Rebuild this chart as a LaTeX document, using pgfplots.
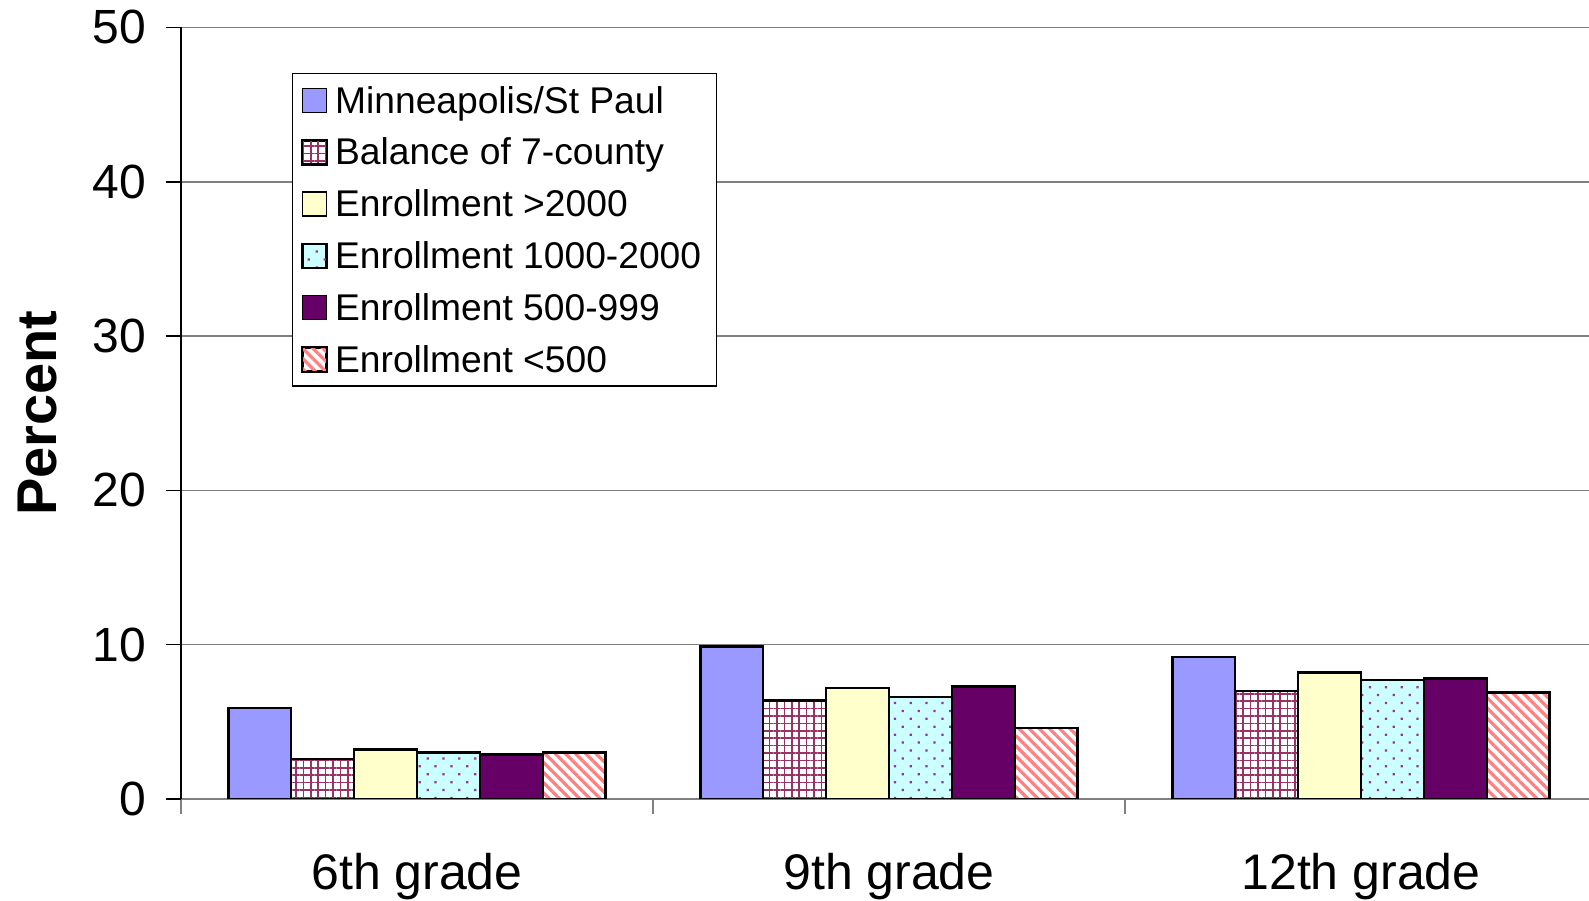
\documentclass[border=0pt]{standalone}
\usepackage{pgfplots}
\pgfplotsset{compat=1.18}
\usepackage{fontspec}
\setmainfont{Liberation Sans}
\usetikzlibrary{patterns.meta,calc}
\definecolor{mpls}{HTML}{9999FF}
\definecolor{bal}{HTML}{993366}
\definecolor{big}{HTML}{FFFFCC}
\definecolor{mid}{HTML}{CCFFFF}
\definecolor{dots}{HTML}{993399}
\definecolor{small}{HTML}{660066}
\definecolor{tiny}{HTML}{FF8080}
\begin{document}
\begin{tikzpicture}
\begin{axis}[
  name=ax,
  scale only axis,
  width=704pt, height=385.8pt,
  xmin=-0.5, xmax=2.483, ymin=0, ymax=50,
  axis lines*=left,
  x axis line style={draw=gray, line width=0.8pt},
  y axis line style={draw=black, line width=0.8pt},
  ytick={0,10,...,50},
  ymajorgrids,
  grid style={draw=gray, line width=0.8pt},
  ytick style={draw=black, line width=0.8pt},
  y tick label style={font=\fontsize{24}{28}\selectfont, xshift=-6.5pt},
  /pgf/number format/assume math mode=true,
  tick align=outside,
  major tick length=7.5pt,
  xtick={-0.5,0.5,1.5},
  xticklabels={},
  xtick style={draw=gray, line width=0.8pt},
  extra x ticks={0,1,2},
  extra x tick labels={6th grade,9th grade,12th grade},
  extra x tick style={major tick length=0pt, grid=none,
     tick label style={font=\fontsize{25}{30}\selectfont, yshift=-23.5pt}},
  ylabel={Percent},
  every axis y label/.style={at={([xshift=-71.75pt]rel axis cs:0,0.5)}, rotate=90, anchor=center,
     font=\bfseries\fontsize{28}{32}\selectfont},
  ybar=0pt,
  bar width=0.1333,
  legend image code/.code={\draw[#1,line width=0.8pt] (0pt,-6pt) rectangle (12pt,6pt);},
  legend cell align=left,
  legend style={at={(rel axis cs:0.0788,0.9405)}, anchor=north west,
     draw=black, line width=0.6pt,
     font=\fontsize{18.6}{22}\selectfont,
     nodes={text height=13.6pt, text depth=1pt, inner ysep=2pt, inner xsep=3pt},
     row sep=7.3pt, inner xsep=4.5pt, inner ysep=4pt,
     /tikz/every odd column/.append style={column sep=1pt}},
  every axis plot/.append style={draw=black, line width=1.3pt},
]
\addplot[fill=mpls] coordinates {(0,5.9) (1,9.9) (2,9.2)};
\addplot[preaction={fill=white}, pattern={Hatch[distance=3.7pt, line width=0.8pt]}, pattern color=bal] coordinates {(0,2.6) (1,6.4) (2,7.0)};
\addplot[fill=big] coordinates {(0,3.2) (1,7.2) (2,8.2)};
\addplot[preaction={fill=mid}, pattern={Dots[angle=45, distance=5.6pt, radius=0.8pt]}, pattern color=dots] coordinates {(0,3.0) (1,6.6) (2,7.7)};
\addplot[fill=small] coordinates {(0,2.9) (1,7.3) (2,7.8)};
\addplot[preaction={fill=white}, pattern={Lines[angle=-45, distance=3.6pt, line width=1.6pt]}, pattern color=tiny] coordinates {(0,3.0) (1,4.6) (2,6.9)};
\legend{Minneapolis/St Paul, Balance of 7-county, Enrollment >2000, Enrollment 1000-2000, Enrollment 500-999, Enrollment <500}
\end{axis}
\pgfresetboundingbox
\path ($(ax.south west)+(-90.5pt,-51pt)$) rectangle ($(ax.north east)+(0pt,13.7pt)$);
\end{tikzpicture}
\end{document}
